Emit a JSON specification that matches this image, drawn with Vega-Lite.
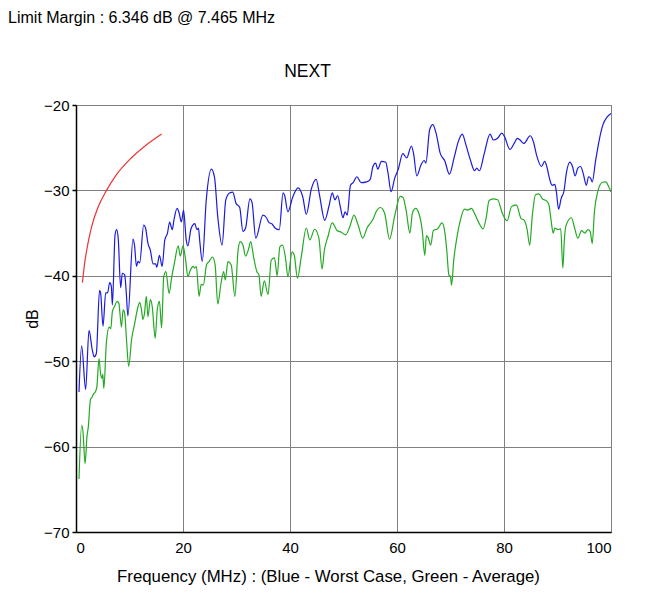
{
  "$schema": "https://vega.github.io/schema/vega-lite/v6.json",
  "background": "white",
  "padding": {"left": 8, "top": 10, "right": 5, "bottom": 5},
  "title": {"text": "Limit Margin : 6.346 dB @ 7.465 MHz", "anchor": "start", "frame": "bounds", "fontSize": 16, "fontWeight": "normal", "font": "Liberation Sans", "color": "black", "offset": 36, "dx": -16},
  "config": {
    "font": "Liberation Sans",
    "view": {"stroke": "#808080", "strokeWidth": 1},
    "axis": {"labelFont": "Liberation Sans", "titleFont": "Liberation Sans", "labelColor": "black", "titleColor": "black", "titleFontWeight": "normal", "gridColor": "#808080", "gridWidth": 1, "gridOpacity": 1, "domainColor": "black", "domainWidth": 1.5, "tickColor": "black", "tickWidth": 1.5}
  },
  "vconcat": [
    {
      "title": {"text": "NEXT", "fontSize": 17.5, "fontWeight": "normal", "color": "black", "offset": 18, "dx": -36},
      "width": 535,
      "height": 427,
      "data": {"values": [
        {"s":"blue","f":0.56,"db":-53.6},{"s":"blue","f":1.06,"db":-48.2},{"s":"blue","f":1.8,"db":-53.3},{"s":"blue","f":2.43,"db":-46.4},{"s":"blue","f":3.05,"db":-48.7},{"s":"blue","f":3.4,"db":-49.5},{"s":"blue","f":3.8,"db":-49.1},{"s":"blue","f":4.4,"db":-41.7},{"s":"blue","f":4.6,"db":-42.0},{"s":"blue","f":5.05,"db":-45.9},{"s":"blue","f":5.55,"db":-42.0},{"s":"blue","f":5.9,"db":-42.0},{"s":"blue","f":6.3,"db":-40.8},{"s":"blue","f":6.6,"db":-41.2},{"s":"blue","f":6.8,"db":-43.4},{"s":"blue","f":7.3,"db":-35.2},{"s":"blue","f":7.6,"db":-34.6},{"s":"blue","f":7.9,"db":-35.7},{"s":"blue","f":8.35,"db":-41.4},{"s":"blue","f":8.66,"db":-39.7},{"s":"blue","f":9.1,"db":-39.9},{"s":"blue","f":9.4,"db":-42.0},{"s":"blue","f":9.7,"db":-44.7},{"s":"blue","f":10.65,"db":-35.7},{"s":"blue","f":10.95,"db":-36.5},{"s":"blue","f":11.3,"db":-38.9},{"s":"blue","f":11.6,"db":-38.3},{"s":"blue","f":11.9,"db":-38.5},{"s":"blue","f":12.65,"db":-34.05},{"s":"blue","f":13.0,"db":-34.4},{"s":"blue","f":13.45,"db":-36.2},{"s":"blue","f":13.9,"db":-37.0},{"s":"blue","f":14.4,"db":-38.6},{"s":"blue","f":14.9,"db":-38.6},{"s":"blue","f":15.1,"db":-39.0},{"s":"blue","f":15.6,"db":-37.6},{"s":"blue","f":16.1,"db":-38.9},{"s":"blue","f":16.6,"db":-35.8},{"s":"blue","f":17.1,"db":-35.0},{"s":"blue","f":17.5,"db":-33.7},{"s":"blue","f":18.0,"db":-34.6},{"s":"blue","f":18.3,"db":-33.5},{"s":"blue","f":18.9,"db":-32.1},{"s":"blue","f":19.3,"db":-32.7},{"s":"blue","f":19.7,"db":-33.7},{"s":"blue","f":20.1,"db":-32.3},{"s":"blue","f":20.6,"db":-35.8},{"s":"blue","f":20.9,"db":-36.5},{"s":"blue","f":21.5,"db":-34.5},{"s":"blue","f":22.2,"db":-33.9},{"s":"blue","f":22.6,"db":-34.6},{"s":"blue","f":22.9,"db":-34.4},{"s":"blue","f":23.1,"db":-35.7},{"s":"blue","f":23.6,"db":-38.3},{"s":"blue","f":24.35,"db":-31.1},{"s":"blue","f":25.3,"db":-27.5},{"s":"blue","f":25.9,"db":-28.5},{"s":"blue","f":26.5,"db":-33.1},{"s":"blue","f":27.3,"db":-36.4},{"s":"blue","f":28.0,"db":-31.1},{"s":"blue","f":28.7,"db":-30.3},{"s":"blue","f":29.3,"db":-30.2},{"s":"blue","f":29.9,"db":-31.5},{"s":"blue","f":30.6,"db":-32.0},{"s":"blue","f":31.2,"db":-34.8},{"s":"blue","f":31.7,"db":-34.4},{"s":"blue","f":32.5,"db":-31.0},{"s":"blue","f":32.9,"db":-31.4},{"s":"blue","f":33.6,"db":-35.6},{"s":"blue","f":34.95,"db":-32.9},{"s":"blue","f":35.6,"db":-33.2},{"s":"blue","f":36.1,"db":-33.8},{"s":"blue","f":36.6,"db":-33.9},{"s":"blue","f":37.2,"db":-34.4},{"s":"blue","f":38.0,"db":-34.6},{"s":"blue","f":38.7,"db":-30.3},{"s":"blue","f":39.0,"db":-30.6},{"s":"blue","f":39.6,"db":-32.5},{"s":"blue","f":40.5,"db":-30.8},{"s":"blue","f":41.5,"db":-29.7},{"s":"blue","f":42.4,"db":-30.8},{"s":"blue","f":43.05,"db":-32.8},{"s":"blue","f":44.0,"db":-29.8},{"s":"blue","f":44.9,"db":-28.7},{"s":"blue","f":45.5,"db":-30.5},{"s":"blue","f":46.5,"db":-33.5},{"s":"blue","f":47.3,"db":-31.8},{"s":"blue","f":47.9,"db":-30.3},{"s":"blue","f":48.4,"db":-31.1},{"s":"blue","f":48.9,"db":-30.6},{"s":"blue","f":49.4,"db":-31.9},{"s":"blue","f":49.9,"db":-33.2},{"s":"blue","f":50.3,"db":-32.5},{"s":"blue","f":50.7,"db":-32.9},{"s":"blue","f":51.3,"db":-29.4},{"s":"blue","f":51.8,"db":-29.1},{"s":"blue","f":52.5,"db":-28.4},{"s":"blue","f":53.3,"db":-29.1},{"s":"blue","f":54.3,"db":-29.0},{"s":"blue","f":55.0,"db":-28.7},{"s":"blue","f":55.5,"db":-27.2},{"s":"blue","f":56.0,"db":-26.8},{"s":"blue","f":56.4,"db":-27.5},{"s":"blue","f":57.1,"db":-26.6},{"s":"blue","f":57.9,"db":-26.7},{"s":"blue","f":58.3,"db":-27.9},{"s":"blue","f":58.9,"db":-30.15},{"s":"blue","f":59.6,"db":-28.5},{"s":"blue","f":60.2,"db":-27.6},{"s":"blue","f":61.1,"db":-25.7},{"s":"blue","f":61.8,"db":-26.2},{"s":"blue","f":62.7,"db":-24.8},{"s":"blue","f":63.1,"db":-25.7},{"s":"blue","f":63.7,"db":-28.3},{"s":"blue","f":64.5,"db":-27.0},{"s":"blue","f":65.1,"db":-26.5},{"s":"blue","f":65.4,"db":-26.8},{"s":"blue","f":66.1,"db":-22.9},{"s":"blue","f":66.7,"db":-22.3},{"s":"blue","f":67.3,"db":-23.3},{"s":"blue","f":68.1,"db":-25.7},{"s":"blue","f":68.9,"db":-26.5},{"s":"blue","f":69.8,"db":-28.1},{"s":"blue","f":70.7,"db":-26.1},{"s":"blue","f":71.5,"db":-24.2},{"s":"blue","f":72.2,"db":-23.4},{"s":"blue","f":72.9,"db":-24.7},{"s":"blue","f":73.7,"db":-26.4},{"s":"blue","f":74.5,"db":-27.7},{"s":"blue","f":74.9,"db":-27.4},{"s":"blue","f":75.4,"db":-27.7},{"s":"blue","f":76.3,"db":-25.7},{"s":"blue","f":77.4,"db":-23.4},{"s":"blue","f":78.0,"db":-24.1},{"s":"blue","f":78.8,"db":-23.9},{"s":"blue","f":79.6,"db":-23.3},{"s":"blue","f":80.1,"db":-23.7},{"s":"blue","f":81.1,"db":-25.2},{"s":"blue","f":81.9,"db":-24.5},{"s":"blue","f":82.5,"db":-23.9},{"s":"blue","f":83.0,"db":-24.1},{"s":"blue","f":83.7,"db":-24.5},{"s":"blue","f":84.9,"db":-23.6},{"s":"blue","f":85.5,"db":-24.3},{"s":"blue","f":86.1,"db":-25.9},{"s":"blue","f":87.0,"db":-27.2},{"s":"blue","f":87.6,"db":-26.6},{"s":"blue","f":88.0,"db":-27.2},{"s":"blue","f":88.5,"db":-28.6},{"s":"blue","f":89.0,"db":-29.4},{"s":"blue","f":89.5,"db":-29.3},{"s":"blue","f":89.8,"db":-30.2},{"s":"blue","f":90.2,"db":-32.2},{"s":"blue","f":90.7,"db":-30.9},{"s":"blue","f":91.2,"db":-30.1},{"s":"blue","f":91.65,"db":-28.0},{"s":"blue","f":92.3,"db":-26.7},{"s":"blue","f":92.8,"db":-27.2},{"s":"blue","f":93.3,"db":-28.3},{"s":"blue","f":93.8,"db":-27.4},{"s":"blue","f":94.3,"db":-27.2},{"s":"blue","f":94.8,"db":-28.0},{"s":"blue","f":95.4,"db":-29.4},{"s":"blue","f":95.8,"db":-28.4},{"s":"blue","f":96.2,"db":-28.6},{"s":"blue","f":96.5,"db":-29.0},{"s":"blue","f":97.1,"db":-26.6},{"s":"blue","f":97.8,"db":-24.1},{"s":"blue","f":98.5,"db":-22.3},{"s":"blue","f":99.3,"db":-21.4},{"s":"blue","f":100,"db":-21.0},
        {"s":"green","f":0.56,"db":-63.8},{"s":"green","f":1.06,"db":-57.5},{"s":"green","f":1.3,"db":-58.2},{"s":"green","f":1.7,"db":-62.0},{"s":"green","f":2.05,"db":-58.8},{"s":"green","f":2.3,"db":-57.7},{"s":"green","f":2.7,"db":-54.5},{"s":"green","f":3.0,"db":-54.2},{"s":"green","f":3.3,"db":-53.8},{"s":"green","f":3.6,"db":-53.6},{"s":"green","f":3.9,"db":-53.0},{"s":"green","f":4.3,"db":-49.7},{"s":"green","f":4.6,"db":-51.5},{"s":"green","f":4.86,"db":-52.0},{"s":"green","f":5.0,"db":-51.5},{"s":"green","f":5.2,"db":-53.2},{"s":"green","f":5.67,"db":-47.9},{"s":"green","f":6.2,"db":-46.0},{"s":"green","f":6.5,"db":-46.2},{"s":"green","f":6.8,"db":-44.2},{"s":"green","f":7.2,"db":-43.6},{"s":"green","f":7.66,"db":-43.0},{"s":"green","f":8.0,"db":-43.2},{"s":"green","f":8.5,"db":-46.0},{"s":"green","f":8.8,"db":-44.0},{"s":"green","f":9.1,"db":-44.4},{"s":"green","f":9.4,"db":-47.1},{"s":"green","f":9.85,"db":-50.6},{"s":"green","f":10.4,"db":-47.4},{"s":"green","f":10.96,"db":-45.6},{"s":"green","f":11.6,"db":-43.6},{"s":"green","f":11.9,"db":-43.1},{"s":"green","f":12.2,"db":-43.8},{"s":"green","f":12.5,"db":-45.1},{"s":"green","f":12.8,"db":-44.4},{"s":"green","f":13.15,"db":-42.4},{"s":"green","f":13.45,"db":-44.8},{"s":"green","f":13.9,"db":-42.8},{"s":"green","f":14.25,"db":-43.6},{"s":"green","f":14.8,"db":-47.3},{"s":"green","f":15.2,"db":-43.9},{"s":"green","f":15.6,"db":-43.0},{"s":"green","f":16.0,"db":-46.1},{"s":"green","f":16.4,"db":-40.1},{"s":"green","f":16.8,"db":-39.5},{"s":"green","f":17.4,"db":-42.05},{"s":"green","f":17.9,"db":-40.1},{"s":"green","f":18.4,"db":-38.5},{"s":"green","f":19.1,"db":-36.5},{"s":"green","f":19.5,"db":-37.7},{"s":"green","f":20.0,"db":-36.5},{"s":"green","f":20.5,"db":-38.2},{"s":"green","f":20.9,"db":-40.1},{"s":"green","f":21.4,"db":-39.3},{"s":"green","f":21.9,"db":-38.9},{"s":"green","f":22.2,"db":-39.1},{"s":"green","f":22.5,"db":-38.9},{"s":"green","f":23.0,"db":-42.4},{"s":"green","f":23.4,"db":-41.0},{"s":"green","f":23.8,"db":-41.1},{"s":"green","f":24.4,"db":-38.7},{"s":"green","f":24.9,"db":-38.3},{"s":"green","f":25.5,"db":-37.8},{"s":"green","f":26.0,"db":-38.7},{"s":"green","f":26.5,"db":-43.3},{"s":"green","f":27.1,"db":-40.9},{"s":"green","f":27.6,"db":-39.5},{"s":"green","f":27.9,"db":-40.5},{"s":"green","f":28.4,"db":-38.35},{"s":"green","f":29.0,"db":-38.7},{"s":"green","f":29.7,"db":-42.4},{"s":"green","f":30.3,"db":-37.0},{"s":"green","f":30.7,"db":-36.0},{"s":"green","f":31.2,"db":-36.4},{"s":"green","f":31.7,"db":-37.7},{"s":"green","f":32.2,"db":-37.0},{"s":"green","f":32.65,"db":-36.0},{"s":"green","f":33.2,"db":-37.8},{"s":"green","f":33.8,"db":-39.5},{"s":"green","f":34.2,"db":-39.9},{"s":"green","f":34.6,"db":-42.4},{"s":"green","f":35.2,"db":-40.6},{"s":"green","f":35.9,"db":-42.2},{"s":"green","f":36.5,"db":-38.15},{"s":"green","f":37.1,"db":-37.9},{"s":"green","f":37.6,"db":-40.0},{"s":"green","f":38.1,"db":-36.6},{"s":"green","f":38.6,"db":-36.4},{"s":"green","f":39.2,"db":-38.1},{"s":"green","f":39.6,"db":-40.1},{"s":"green","f":40.4,"db":-37.2},{"s":"green","f":40.8,"db":-37.6},{"s":"green","f":41.4,"db":-40.3},{"s":"green","f":42.1,"db":-37.8},{"s":"green","f":43.05,"db":-34.4},{"s":"green","f":43.7,"db":-35.8},{"s":"green","f":44.6,"db":-34.55},{"s":"green","f":45.4,"db":-35.6},{"s":"green","f":46.0,"db":-39.2},{"s":"green","f":46.4,"db":-37.1},{"s":"green","f":47.1,"db":-35.4},{"s":"green","f":47.9,"db":-33.8},{"s":"green","f":48.8,"db":-34.7},{"s":"green","f":49.6,"db":-34.9},{"s":"green","f":50.4,"db":-35.2},{"s":"green","f":51.2,"db":-34.2},{"s":"green","f":51.96,"db":-32.9},{"s":"green","f":52.7,"db":-34.0},{"s":"green","f":53.6,"db":-35.6},{"s":"green","f":54.4,"db":-34.4},{"s":"green","f":55.0,"db":-33.85},{"s":"green","f":55.5,"db":-33.4},{"s":"green","f":56.1,"db":-32.5},{"s":"green","f":56.9,"db":-32.0},{"s":"green","f":57.7,"db":-32.7},{"s":"green","f":58.6,"db":-35.7},{"s":"green","f":59.6,"db":-32.9},{"s":"green","f":60.6,"db":-30.7},{"s":"green","f":61.1,"db":-30.8},{"s":"green","f":61.7,"db":-32.3},{"s":"green","f":62.4,"db":-35.0},{"s":"green","f":62.9,"db":-32.6},{"s":"green","f":63.5,"db":-32.1},{"s":"green","f":64.1,"db":-32.7},{"s":"green","f":64.7,"db":-34.6},{"s":"green","f":65.2,"db":-37.6},{"s":"green","f":65.5,"db":-35.3},{"s":"green","f":65.8,"db":-35.5},{"s":"green","f":66.3,"db":-36.4},{"s":"green","f":66.8,"db":-34.7},{"s":"green","f":67.6,"db":-34.5},{"s":"green","f":68.4,"db":-33.8},{"s":"green","f":68.9,"db":-34.7},{"s":"green","f":69.3,"db":-37.0},{"s":"green","f":69.7,"db":-39.9},{"s":"green","f":70.0,"db":-40.1},{"s":"green","f":70.2,"db":-41.1},{"s":"green","f":70.6,"db":-38.2},{"s":"green","f":71.2,"db":-35.5},{"s":"green","f":71.8,"db":-33.6},{"s":"green","f":72.6,"db":-32.2},{"s":"green","f":73.2,"db":-32.3},{"s":"green","f":73.9,"db":-32.1},{"s":"green","f":74.5,"db":-32.7},{"s":"green","f":75.3,"db":-33.8},{"s":"green","f":76.1,"db":-34.5},{"s":"green","f":76.7,"db":-33.1},{"s":"green","f":77.2,"db":-31.2},{"s":"green","f":77.9,"db":-31.0},{"s":"green","f":78.8,"db":-31.1},{"s":"green","f":79.7,"db":-32.7},{"s":"green","f":80.6,"db":-33.55},{"s":"green","f":81.4,"db":-31.9},{"s":"green","f":82.3,"db":-31.7},{"s":"green","f":83.2,"db":-33.3},{"s":"green","f":83.8,"db":-33.5},{"s":"green","f":84.3,"db":-34.5},{"s":"green","f":84.8,"db":-36.4},{"s":"green","f":85.3,"db":-32.9},{"s":"green","f":85.9,"db":-30.5},{"s":"green","f":86.5,"db":-30.4},{"s":"green","f":87.2,"db":-31.0},{"s":"green","f":87.9,"db":-31.2},{"s":"green","f":88.4,"db":-31.7},{"s":"green","f":88.8,"db":-33.5},{"s":"green","f":89.2,"db":-35.0},{"s":"green","f":89.5,"db":-34.4},{"s":"green","f":90.1,"db":-34.6},{"s":"green","f":90.6,"db":-34.5},{"s":"green","f":91.0,"db":-39.1},{"s":"green","f":91.3,"db":-35.6},{"s":"green","f":91.6,"db":-34.1},{"s":"green","f":92.6,"db":-33.2},{"s":"green","f":93.2,"db":-34.4},{"s":"green","f":93.8,"db":-35.6},{"s":"green","f":94.5,"db":-34.7},{"s":"green","f":95.1,"db":-35.0},{"s":"green","f":95.7,"db":-34.6},{"s":"green","f":96.1,"db":-34.8},{"s":"green","f":96.5,"db":-36.2},{"s":"green","f":96.9,"db":-32.5},{"s":"green","f":97.5,"db":-30.2},{"s":"green","f":98.4,"db":-29.05},{"s":"green","f":99.0,"db":-29.0},{"s":"green","f":99.6,"db":-29.6},{"s":"green","f":100,"db":-30.2},
        {"s":"red","f":1.2,"db":-40.8},{"s":"red","f":1.6,"db":-38.6},{"s":"red","f":2.0,"db":-37.0},{"s":"red","f":2.9,"db":-34.3},{"s":"red","f":4.1,"db":-32.0},{"s":"red","f":5.7,"db":-30.0},{"s":"red","f":7.5,"db":-28.2},{"s":"red","f":10.0,"db":-26.4},{"s":"red","f":12.5,"db":-25.0},{"s":"red","f":16.0,"db":-23.4}
      ]},
      "mark": {"type": "line", "interpolate": "monotone", "strokeWidth": 1.2, "clip": true},
      "encoding": {
        "x": {"field": "f", "type": "quantitative", "scale": {"domain": [0, 100], "nice": false},
          "axis": {"values": [0, 20, 40, 60, 80, 100], "title": "Frequency (MHz) : (Blue - Worst Case, Green - Average)", "labelFontSize": 15, "titleFontSize": 16.8, "tickSize": 0, "labelPadding": 8, "titlePadding": 13, "titleX": 252}},
        "y": {"field": "db", "type": "quantitative", "scale": {"domain": [-70, -20], "nice": false, "zero": false},
          "axis": {"values": [-70, -60, -50, -40, -30, -20], "title": "dB", "labelFontSize": 15, "titleFontSize": 16, "tickSize": 4, "labelPadding": 3, "titlePadding": 3}},
        "color": {"field": "s", "type": "nominal", "scale": {"domain": ["blue", "green", "red"], "range": ["#1a1ae0", "#22aa22", "#ee3333"]}, "legend": null},
        "detail": {"field": "s"}
      }
    }
  ]
}
